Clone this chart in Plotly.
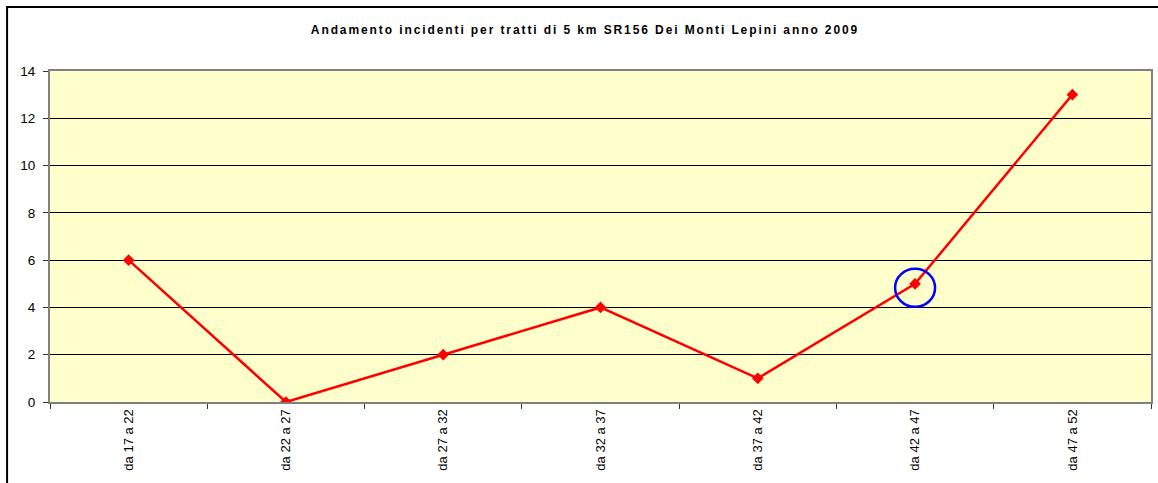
import plotly.graph_objects as go

categories = ["da 17 a 22", "da 22 a 27", "da 27 a 32", "da 32 a 37",
              "da 37 a 42", "da 42 a 47", "da 47 a 52"]
values = [6, 0, 2, 4, 1, 5, 13]
y_ticks = [0, 2, 4, 6, 8, 10, 12, 14]
title = "Andamento incidenti per tratti di 5 km SR156 Dei Monti Lepini anno 2009"
highlight_index = 5

FONT = "Liberation Sans, Arial, sans-serif"

fig = go.Figure()
fig.add_trace(go.Scatter(
    x=categories, y=values, mode="lines+markers",
    line=dict(color="#FF0000", width=2.5),
    marker=dict(symbol="diamond", size=9, color="#FF0000"),
    showlegend=False, hoverinfo="x+y",
))

# blue circle highlight around the selected point
fig.add_shape(type="circle", xref="x", yref="y",
              xsizemode="pixel", ysizemode="pixel",
              xanchor=highlight_index, yanchor=values[highlight_index],
              x0=-20, x1=20, y0=-23, y1=15,
              line=dict(color="#0000FF", width=2.5))

# outer chart border (extends past the bottom/right of the view)
fig.add_shape(type="rect", xref="paper", yref="paper",
              x0=-43/1103, x1=1.02, y0=-0.5, y1=1 + 64/331,
              line=dict(color="#000000", width=2), layer="below")

fig.update_layout(
    width=1158, height=483,
    margin=dict(l=50, r=5, t=71, b=81),
    paper_bgcolor="#FFFFFF",
    plot_bgcolor="#FFFFCC",
    font=dict(family=FONT, size=13, color="#000000"),
    title=dict(
        text='<span style="letter-spacing:1.9px"><b>' + title + '</b></span>',
        x=585/1158, xref="container", xanchor="center",
        y=1 - 30/483, yanchor="middle",
        font=dict(family=FONT, size=12, color="#000000"),
    ),
    xaxis=dict(
        type="category", categoryorder="array", categoryarray=categories,
        tickangle=-90, tickson="boundaries", ticks="outside", ticklen=5,
        tickcolor="#333333", tickfont=dict(size=13),
        showgrid=False, showline=True, linecolor="#808080", linewidth=2,
        mirror=True, zeroline=False, range=[-0.5, 6.5], fixedrange=True,
    ),
    yaxis=dict(
        range=[0, 14], tickvals=y_ticks, ticks="outside", ticklen=5,
        tickcolor="#333333", tickfont=dict(size=13.5), ticklabelstandoff=5,
        showgrid=True, gridcolor="#000000", gridwidth=1,
        showline=True, linecolor="#808080", linewidth=2, mirror=True,
        zeroline=False, fixedrange=True,
    ),
)

fig.write_html("out.html", config={"displayModeBar": False},
               post_script="document.body.style.margin='0';")
